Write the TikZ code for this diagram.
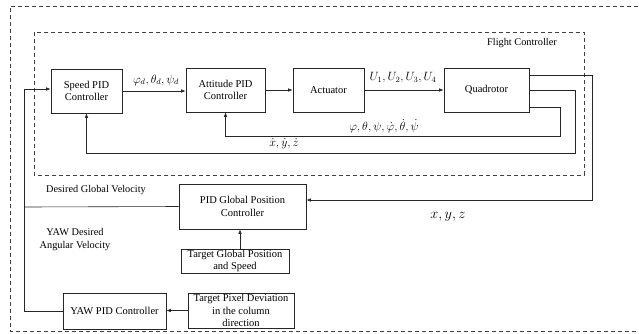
\documentclass[tikz,border=0pt]{standalone}
\usepackage{fontspec}
\setmainfont{Liberation Serif}
\usetikzlibrary{arrows.meta}
\begin{document}
\begin{tikzpicture}[x=1pt,y=-1pt,
  line/.style={draw=black!85,line width=0.6pt},
  arr/.style={line,-{Latex[length=4.5pt,width=3.5pt]}},
  blk/.style={line,rectangle,align=center,inner sep=1pt,
    font=\fontsize{10.5}{12.5}\selectfont},
  frame/.style={draw=black!75,line width=0.6pt,dash pattern=on 4pt off 3pt},
  lbl/.style={font=\fontsize{10.3}{13}\selectfont,align=center,inner sep=0pt},
  mlbl/.style={font=\fontsize{11.5}{13}\selectfont,inner sep=0pt}]
\useasboundingbox (0,0) rectangle (639,333);

% enclosing frames
\draw[frame] (645,6) -- (10,6) -- (10,331) -- (645,331);
\draw[frame] (34,32) rectangle (584,175);
\node[lbl] (fc) at (522,43) {Flight Controller};

% blocks
\node[blk,minimum width=71pt,minimum height=44pt] (spd) at (86.5,91) {Speed PID\\Controller};
\node[blk,minimum width=79pt,minimum height=44pt] (att) at (225.5,90) {Attitude PID\\Controller};
\node[blk,minimum width=71pt,minimum height=44pt] (act) at (328.5,90) {Actuator};
\node[blk,minimum width=85pt,minimum height=44pt] (quad) at (486.5,90) {Quadrotor};
\node[blk,minimum width=127pt,minimum height=45pt] (pos) at (242.5,206.5) {PID Global Position\\Controller};
\node[blk,minimum width=108pt,minimum height=24pt] (tgp) at (235,261) {Target Global Position\\and Speed};
\node[blk,minimum width=103pt,minimum height=36pt] (yaw) at (114.5,311) {YAW PID Controller};
\node[blk,minimum width=106pt,minimum height=35pt] (tpx) at (241,310.5) {Target Pixel Deviation\\in the column\\direction};

% forward path
\draw[arr] (spd.east) -- (spd.east -| att.west);
\draw[arr] (att.east) -- (act.west);
\draw[arr] (act.east) -- (quad.west);

% inner feedback loops
\coordinate (q1) at (quad.east |- 0,107);
\coordinate (q2) at (quad.east |- 0,90);
\coordinate (q3) at (quad.east |- 0,75);
\draw[arr] (q1) -- (560,107) -- (560,136) -- (att.south |- 0,136) -- (att.south);
\draw[arr] (q2) -- (575,90) -- (575,153) -- (spd.south |- 0,153) -- (spd.south);
\coordinate (pin) at (pos.east |- 0,200);
\draw[arr] (q3) -- (592,75) -- (592,200) -- (pin);

% outer loop
\coordinate (lft) at (24,89);
\coordinate (spdin) at (spd.west |- 0,89);
\draw[line] (pos.west) -- (24,207);
\draw[arr] (yaw.west) -- (24,311) -- (lft) -- (spdin);
\coordinate (tgpout) at (240,0 |- tgp.north);
\draw[arr] (tgpout) -- (tgpout |- pos.south);
\draw[arr] (tpx.west) -- (tpx.west -| yaw.east);

% signal labels
\node[mlbl] (l1) at (156,80) {$\varphi_d,\theta_d,\psi_d$};
\node[mlbl] (l2) at (403,78) {$U_1,U_2,U_3,U_4$};
\node[mlbl] (l3) at (384,126) {$\varphi,\theta,\psi,\dot\varphi,\dot\theta,\dot\psi$};
\node[mlbl] (l4) at (284,144) {$\dot x,\dot y,\dot z$};
\node[inner sep=0pt,font=\fontsize{14.5}{17}\selectfont] (l5) at (448,217) {$x,y,z$};
\node[lbl] (l6) at (96,190) {Desired Global Velocity};
\node[lbl] (l7) at (75,240) {YAW Desired\\Angular Velocity};
\end{tikzpicture}
\end{document}
